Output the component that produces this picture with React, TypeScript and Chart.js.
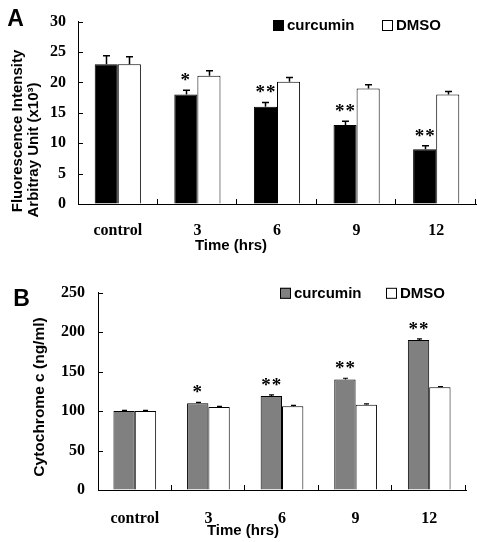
import React, { useEffect, useRef } from 'react';
import { Chart, registerables } from 'chart.js';

Chart.register(...registerables);

// ---------- data ----------
const categories = ['control', '3', '6', '9', '12'];

// Panel A: fluorescence intensity (x10^3)
const fluorCurcumin = [23, 18, 16, 13, 9];
const fluorCurcuminErr = [1.4, 0.7, 0.7, 0.6, 0.6];
const fluorDmso = [23, 21.1, 20.1, 19, 18];
const fluorDmsoErr = [1.2, 0.8, 0.7, 0.6, 0.5];
const fluorStars = ['', '*', '**', '**', '**'];

// Panel B: cytochrome c (ng/ml)
const cytoCurcumin = [100, 110, 119, 140, 190];
const cytoCurcuminErr = [0.8, 1, 1.5, 1.5, 1.5];
const cytoDmso = [100, 105, 106, 108, 130];
const cytoDmsoErr = [0.8, 0.8, 1.2, 1, 0.8];
const cytoStars = ['', '*', '**', '**', '**'];

const seriesNames = ['curcumin', 'DMSO'];

// ---------- config ----------
const SANS = "'Liberation Sans', Arial, sans-serif";
const SERIF = "'Liberation Serif', 'Times New Roman', serif";

interface TextPos { text: string; x: number; y: number }
interface LegendItem { x: number; y: number; fill: string; label: string }
interface PanelCfg {
  W: number; H: number;
  area: { left: number; right: number; top: number; bottom: number };
  a: number[]; aErr: number[]; b: number[]; bErr: number[];
  aColor: string;
  stars: string[];
  yMax: number; yStep: number;
  xPad: number; yPad: number;
  letter: TextPos;
  yTitles: TextPos[];
  titleSize: number;
  xTitle: TextPos;
  legend: LegendItem[];
  cap: number;
  errWidth: number;
}

const panelA: PanelCfg = {
  W: 477, H: 270,
  area: { left: 78, right: 476, top: 8, bottom: 204 },
  a: fluorCurcumin, aErr: fluorCurcuminErr, b: fluorDmso, bErr: fluorDmsoErr,
  aColor: '#000000',
  stars: fluorStars,
  yMax: 30, yStep: 5,
  xPad: 17, yPad: 12,
  letter: { text: 'A', x: 15.5, y: 20 },
  yTitles: [
    { text: 'Fluorescence Intensity', x: 18, y: 131 },
    { text: 'Arbitray Unit (x10³)', x: 34, y: 150 },
  ],
  titleSize: 15,
  xTitle: { text: 'Time (hrs)', x: 231, y: 246 },
  legend: [
    { x: 273, y: 25.5, fill: '#000000', label: seriesNames[0] },
    { x: 382, y: 25.5, fill: '#ffffff', label: seriesNames[1] },
  ],
  cap: 3.5,
  errWidth: 1.5,
};

const panelB: PanelCfg = {
  W: 477, H: 272,
  area: { left: 98, right: 466, top: 12.7, bottom: 220 },
  a: cytoCurcumin, aErr: cytoCurcuminErr, b: cytoDmso, bErr: cytoDmsoErr,
  aColor: '#808080',
  stars: cytoStars,
  yMax: 250, yStep: 50,
  xPad: 19, yPad: 13,
  letter: { text: 'B', x: 21.5, y: 30 },
  yTitles: [{ text: 'Cytochrome c (ng/ml)', x: 40, y: 127 }],
  titleSize: 15.5,
  xTitle: { text: 'Time (hrs)', x: 243, y: 261 },
  legend: [
    { x: 280, y: 23.3, fill: '#808080', label: seriesNames[0] },
    { x: 386, y: 23.3, fill: '#ffffff', label: seriesNames[1] },
  ],
  cap: 2.5,
  errWidth: 1.2,
};

function panelPlugin(cfg: PanelCfg) {
  return {
    id: 'panelDecor',
    afterDatasetsDraw(chart: any) {
      const ctx = chart.ctx as CanvasRenderingContext2D;
      const yS = chart.scales.y;
      const errs = [cfg.aErr, cfg.bErr];
      const vals = [cfg.a, cfg.b];
      ctx.save();
      ctx.strokeStyle = '#000';
      ctx.lineWidth = cfg.errWidth;
      for (let d = 0; d < 2; d++) {
        const meta = chart.getDatasetMeta(d);
        meta.data.forEach((el: any, i: number) => {
          const x = Math.round(el.x) + 0.5;
          const y0 = yS.getPixelForValue(vals[d][i]);
          const y1 = yS.getPixelForValue(vals[d][i] + errs[d][i]);
          ctx.beginPath();
          ctx.moveTo(x, y0);
          ctx.lineTo(x, y1);
          ctx.moveTo(x - cfg.cap, y1);
          ctx.lineTo(x + cfg.cap, y1);
          ctx.stroke();
        });
      }
      // significance stars
      const meta0 = chart.getDatasetMeta(0);
      ctx.fillStyle = '#000';
      ctx.font = `bold 19px ${SERIF}`;
      ctx.textAlign = 'center';
      ctx.textBaseline = 'alphabetic';
      (ctx as any).letterSpacing = '1px';
      meta0.data.forEach((el: any, i: number) => {
        const s = cfg.stars[i];
        if (!s) return;
        const yTop = yS.getPixelForValue(cfg.a[i] + cfg.aErr[i]);
        ctx.fillText(s, el.x + (s.length > 1 ? 0.5 : 0), yTop - 4);
      });
      (ctx as any).letterSpacing = '0px';
      ctx.restore();
    },
    afterDraw(chart: any) {
      const ctx = chart.ctx as CanvasRenderingContext2D;
      const area = chart.chartArea;
      const xS = chart.scales.x;
      const yS = chart.scales.y;
      ctx.save();
      ctx.strokeStyle = '#000';
      ctx.lineWidth = 1;
      // inward y ticks
      yS.ticks.forEach((t: any) => {
        const y = Math.round(yS.getPixelForValue(t.value)) + 0.5;
        ctx.beginPath();
        ctx.moveTo(area.left, y);
        ctx.lineTo(area.left + 5, y);
        ctx.stroke();
      });
      // inward x ticks at category boundaries
      const n = categories.length;
      const w = (xS.right - xS.left) / n;
      for (let k = 1; k <= n; k++) {
        const x = Math.round(xS.left + k * w) - 0.5;
        ctx.beginPath();
        ctx.moveTo(x, area.bottom);
        ctx.lineTo(x, area.bottom - 5);
        ctx.stroke();
      }
      // panel letter
      ctx.fillStyle = '#000';
      ctx.textAlign = 'center';
      ctx.textBaseline = 'middle';
      ctx.font = `bold 23px ${SANS}`;
      ctx.fillText(cfg.letter.text, cfg.letter.x, cfg.letter.y);
      // axis titles
      ctx.font = `bold 15px ${SANS}`;
      ctx.fillText(cfg.xTitle.text, cfg.xTitle.x, cfg.xTitle.y);
      ctx.font = `bold ${cfg.titleSize}px ${SANS}`;
      cfg.yTitles.forEach((t) => {
        ctx.save();
        ctx.translate(t.x, t.y);
        ctx.rotate(-Math.PI / 2);
        ctx.fillText(t.text, 0, 0);
        ctx.restore();
      });
      // legend
      ctx.font = `bold 15px ${SANS}`;
      ctx.textAlign = 'left';
      cfg.legend.forEach((it) => {
        ctx.fillStyle = it.fill;
        ctx.fillRect(it.x, it.y - 5.5, 11, 11);
        ctx.strokeStyle = '#000';
        ctx.strokeRect(it.x + 0.5, it.y - 5, 10, 10);
        ctx.fillStyle = '#000';
        ctx.fillText(it.label, it.x + 14, it.y + 0.5);
      });
      ctx.restore();
    },
  };
}

function makeChart(canvas: HTMLCanvasElement, cfg: PanelCfg) {
  const tickFont = { family: SERIF, size: 16, weight: 'bold' as const };
  const common = {
    grid: { display: true, drawOnChartArea: false, drawTicks: false },
    border: { display: true, color: '#000', width: 1 },
  };
  return new Chart(canvas, {
    type: 'bar',
    data: {
      labels: categories,
      datasets: [
        {
          label: seriesNames[0], data: cfg.a, backgroundColor: cfg.aColor,
          borderColor: '#000', borderWidth: 1, categoryPercentage: 0.58, barPercentage: 1,
        },
        {
          label: seriesNames[1], data: cfg.b, backgroundColor: '#ffffff',
          borderColor: '#000', borderWidth: 1, categoryPercentage: 0.58, barPercentage: 1,
        },
      ],
    },
    options: {
      responsive: false,
      animation: false,
      devicePixelRatio: 1,
      layout: { padding: { left: 0, top: cfg.area.top, right: cfg.W - cfg.area.right, bottom: 0 } },
      plugins: { legend: { display: false }, tooltip: { enabled: false }, title: { display: false } },
      scales: {
        x: {
          ...common,
          ticks: { color: '#000', font: tickFont, padding: cfg.xPad, maxRotation: 0, autoSkip: false },
          afterFit: (s: any) => { s.height = cfg.H - cfg.area.bottom; },
        },
        y: {
          ...common,
          min: 0, max: cfg.yMax,
          ticks: { color: '#000', font: tickFont, padding: cfg.yPad, stepSize: cfg.yStep },
          afterFit: (s: any) => { s.width = cfg.area.left; },
        },
      },
    } as any,
    plugins: [panelPlugin(cfg)],
  });
}

function Panel({ cfg, top }: { cfg: PanelCfg; top: number }) {
  const ref = useRef<HTMLCanvasElement | null>(null);
  useEffect(() => {
    if (!ref.current) return;
    const chart = makeChart(ref.current, cfg);
    return () => chart.destroy();
  }, [cfg]);
  return (
    <canvas
      ref={ref}
      width={cfg.W}
      height={cfg.H}
      style={{ position: 'absolute', left: 0, top, width: cfg.W, height: cfg.H }}
    />
  );
}

export default function App() {
  return (
    <div style={{ position: 'absolute', left: 0, top: 0, width: 477, height: 542, background: '#fff' }}>
      <Panel cfg={panelA} top={0} />
      <Panel cfg={panelB} top={270} />
    </div>
  );
}
